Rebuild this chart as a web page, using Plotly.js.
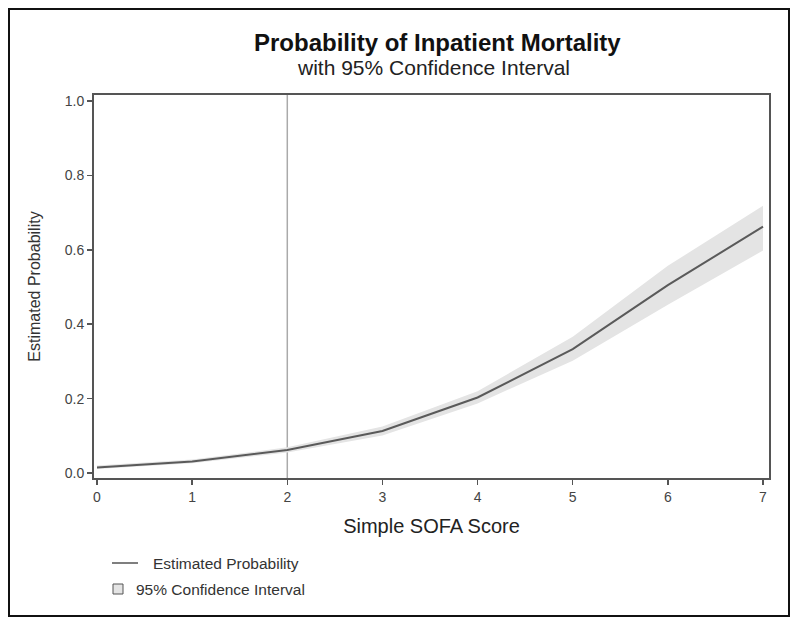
<!DOCTYPE html>
<html>
<head>
<meta charset="utf-8">
<script src="https://cdn.plot.ly/plotly-3.0.1.min.js"></script>
<style>html,body{margin:0;padding:0;background:#fff;}#chart{width:800px;height:626px;}</style>
</head>
<body>
<div id="chart"></div>
<script>
// Data
const sofaScore = [0, 1, 2, 3, 4, 5, 6, 7];
const estProb   = [0.015, 0.031, 0.062, 0.113, 0.203, 0.333, 0.505, 0.662];
const ciLower   = [0.011, 0.026, 0.055, 0.101, 0.187, 0.302, 0.452, 0.598];
const ciUpper   = [0.020, 0.036, 0.069, 0.125, 0.220, 0.366, 0.557, 0.718];
const xTicks = [0, 1, 2, 3, 4, 5, 6, 7];
const yTicks = [0, 0.2, 0.4, 0.6, 0.8, 1.0];
const yTickText = ['0.0', '0.2', '0.4', '0.6', '0.8', '1.0'];
const refX = 2;
const legendLabels = ['Estimated Probability', '95% Confidence Interval'];

const W = 800, H = 626;
const M = {l: 94, r: 31, t: 95, b: 148};
const pw = W - M.l - M.r, ph = H - M.t - M.b;
const px = v => (v - M.l) / pw;           // pixel x -> paper
const py = v => (H - M.b - v) / ph;       // pixel y -> paper

const font = 'Liberation Sans, Arial, sans-serif';

const traces = [
  {x: sofaScore, y: ciLower, type: 'scatter', mode: 'lines', line: {width: 0, color: 'rgba(0,0,0,0)'}, hoverinfo: 'skip', showlegend: false},
  {x: sofaScore, y: ciUpper, type: 'scatter', mode: 'lines', fill: 'tonexty', fillcolor: '#e4e4e4', line: {width: 0, color: 'rgba(0,0,0,0)'}, hoverinfo: 'skip', showlegend: false},
  {x: sofaScore, y: estProb, type: 'scatter', mode: 'lines', line: {width: 2, color: '#5a5a5a'}, showlegend: false}
];

const layout = {
  width: W, height: H,
  margin: M,
  paper_bgcolor: '#fff', plot_bgcolor: '#fff',
  showlegend: false,
  font: {family: font, color: '#333'},
  xaxis: {
    range: [-0.0315, 7.063], tickvals: xTicks, ticktext: xTicks.map(String),
    showgrid: false, zeroline: false, showline: true, mirror: true,
    linecolor: '#555', linewidth: 2, ticks: 'outside', ticklen: 5, tickwidth: 1.5, tickcolor: '#555',
    tickfont: {size: 14, color: '#444', family: font},
    title: {text: 'Simple SOFA Score', font: {size: 20, color: '#222', family: font}, standoff: 15}
  },
  yaxis: {
    range: [-0.0134, 1.016], tickvals: yTicks, ticktext: yTickText,
    showgrid: false, zeroline: false, showline: true, mirror: true,
    linecolor: '#555', linewidth: 2, ticks: 'outside', ticklen: 5, tickwidth: 1.5, tickcolor: '#555',
    tickfont: {size: 14, color: '#444', family: font},
    title: {text: 'Estimated Probability', font: {size: 16, color: '#333', family: font}, standoff: 20}
  },
  shapes: [
    {type: 'line', xref: 'x', yref: 'paper', x0: refX, x1: refX, y0: 0, y1: 1, line: {color: '#aaa', width: 1.5}, layer: 'below'},
    {type: 'rect', xref: 'paper', yref: 'paper', x0: px(9), x1: px(789), y0: py(9), y1: py(616), line: {color: '#111', width: 2}},
    {type: 'line', xref: 'paper', yref: 'paper', x0: px(112), x1: px(138), y0: py(563), y1: py(563), line: {color: '#555', width: 1.5}},
    {type: 'rect', xref: 'paper', yref: 'paper', x0: px(113), x1: px(123), y0: py(584), y1: py(594), fillcolor: '#e4e4e4', line: {color: '#555', width: 1}}
  ],
  annotations: [
    {text: '<b>Probability of Inpatient Mortality</b>', xref: 'paper', yref: 'paper', x: px(437), y: py(43), xanchor: 'center', yanchor: 'middle', showarrow: false, font: {size: 24, color: '#111', family: font}},
    {text: 'with 95% Confidence Interval', xref: 'paper', yref: 'paper', x: px(434), y: py(67), xanchor: 'center', yanchor: 'middle', showarrow: false, font: {size: 21, color: '#222', family: font}},
    {text: legendLabels[0], xref: 'paper', yref: 'paper', x: px(151), y: py(563), xanchor: 'left', yanchor: 'middle', showarrow: false, font: {size: 15.5, color: '#333', family: font}},
    {text: legendLabels[1], xref: 'paper', yref: 'paper', x: px(134), y: py(589), xanchor: 'left', yanchor: 'middle', showarrow: false, font: {size: 15.5, color: '#333', family: font}}
  ]
};

Plotly.newPlot('chart', traces, layout, {displayModeBar: false, staticPlot: true});
</script>
</body>
</html>
